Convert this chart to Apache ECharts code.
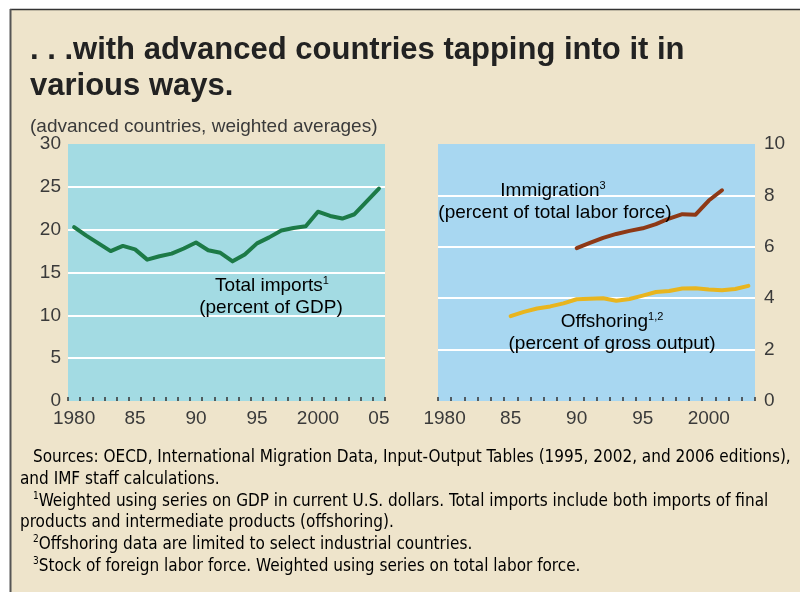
<!DOCTYPE html>
<html><head><meta charset="utf-8">
<script src="https://cdn.jsdelivr.net/npm/echarts@6/dist/echarts.min.js"></script>
<style>html,body{margin:0;padding:0;background:#fff;}#c{width:800px;height:592px;}</style>
</head><body><div id="c"></div>
<script>
// ---- data ----
const leftYears = [1980,1981,1982,1983,1984,1985,1986,1987,1988,1989,1990,1991,1992,1993,1994,1995,1996,1997,1998,1999,2000,2001,2002,2003,2004,2005];
const totalImports = [20.3,19.3,18.4,17.5,18.1,17.7,16.5,16.9,17.2,17.8,18.5,17.6,17.3,16.3,17.1,18.4,19.1,19.9,20.2,20.4,22.1,21.6,21.3,21.8,23.3,24.8];
const rightYears = [1980,1981,1982,1983,1984,1985,1986,1987,1988,1989,1990,1991,1992,1993,1994,1995,1996,1997,1998,1999,2000,2001,2002,2003];
const immigration = [null,null,null,null,null,null,null,null,null,null,5.95,6.15,6.35,6.5,6.62,6.72,6.88,7.1,7.27,7.25,7.8,8.2,null,null];
const offshoring = [null,null,null,null,null,3.3,3.47,3.6,3.68,3.8,3.96,3.98,4.0,3.9,3.97,4.1,4.24,4.28,4.38,4.39,4.34,4.31,4.36,4.48];
const leftTickLabels = {1980:'1980',1985:'85',1990:'90',1995:'95',2000:'2000',2005:'05'};
const rightTickLabels = {1980:'1980',1985:'85',1990:'90',1995:'95',2000:'2000'};
const leftYTicks = [0,5,10,15,20,25,30];
const rightYTicks = [0,2,4,6,8,10];

const txt = '#3a3a3a';
const F = '"Liberation Sans", Arial, sans-serif';
const FN = '"Liberation Sans Narrow", "Arial Narrow", "DejaVu Sans Condensed", "Liberation Sans", sans-serif';
const chart = echarts.init(document.getElementById('c'), null, {renderer:'canvas'});

function xAxis(gi, years, labels){
  return {
    type:'category', gridIndex:gi, data:years.map(String), boundaryGap:true,
    axisLine:{show:false},
    axisTick:{show:true, inside:true, length:4, interval:0, lineStyle:{color:'#333', width:1.5}},
    axisLabel:{interval:4, margin:8, color:txt, fontFamily:F, fontSize:19,
      formatter:v => labels[v] || ''},
    splitLine:{show:false}
  };
}
function yAxis(gi, ticks, pos, margin){
  const cols = ticks.map((t,i)=> (i===0||i===ticks.length-1)?'rgba(0,0,0,0)':'#ffffff');
  return {
    type:'value', gridIndex:gi, position:pos, min:ticks[0], max:ticks[ticks.length-1],
    interval:ticks[1]-ticks[0],
    axisLine:{show:false}, axisTick:{show:false},
    axisLabel:{color:txt, fontFamily:F, fontSize:19, margin:margin},
    splitLine:{show:true, lineStyle:{color:cols, width:2}}
  };
}
function sup(x,y,parts,align){
  return {type:'text', x:x, y:y, z:100, silent:true,
    style:{text:parts, align:align||'center', verticalAlign:'middle',
      rich:{
        m:{fontFamily:F, fontSize:19, color:txt, lineHeight:22, verticalAlign:'bottom'},
        s:{fontFamily:F, fontSize:11, color:txt, lineHeight:22, verticalAlign:'top', padding:[2,0,0,0]}
      }}};
}
function note(x,y,parts){
  return {type:'text', x:x, y:y, z:100, silent:true,
    style:{text:parts, align:'left', verticalAlign:'middle',
      rich:{
        m:{fontFamily:FN, fontSize:17, color:txt, lineHeight:20, verticalAlign:'bottom'},
        s:{fontFamily:FN, fontSize:10, color:txt, lineHeight:20, verticalAlign:'top', padding:[1,0,0,0]}
      }}};
}

const option = {
  backgroundColor:'#ffffff',
  animation:false,
  grid:[
    {left:68, right:415, top:144, height:257, show:true, backgroundColor:'#a3dbe3', borderWidth:0},
    {left:438, right:45, top:144, height:257, show:true, backgroundColor:'#a8d7f1', borderWidth:0}
  ],
  xAxis:[xAxis(0,leftYears,leftTickLabels), xAxis(1,rightYears,rightTickLabels)],
  yAxis:[yAxis(0,leftYTicks,'left',7), yAxis(1,rightYTicks,'right',9)],
  series:[
    {type:'line', name:'Total imports', xAxisIndex:0, yAxisIndex:0, data:totalImports, symbol:'none',
      lineStyle:{color:'#1c7a47', width:4, cap:'round', join:'round'}},
    {type:'line', name:'Immigration', xAxisIndex:1, yAxisIndex:1, data:immigration, symbol:'none',
      lineStyle:{color:'#8e3916', width:4, cap:'round', join:'round'}},
    {type:'line', name:'Offshoring', xAxisIndex:1, yAxisIndex:1, data:offshoring, symbol:'none',
      lineStyle:{color:'#e8b51f', width:4, cap:'round', join:'round'}}
  ],
  graphic:[
    {type:'rect', z:-10, shape:{x:10, y:9, width:800, height:600}, style:{fill:'#eee4cb', stroke:null}},
    {type:'line', z:-9, shape:{x1:10, y1:9.5, x2:800, y2:9.5}, style:{stroke:'#333', lineWidth:1.5}},
    {type:'line', z:-9, shape:{x1:10.5, y1:9, x2:10.5, y2:592}, style:{stroke:'#555', lineWidth:2}},
    {type:'text', x:30, y:50, z:100, style:{text:'. . .with advanced countries tapping into it in', font:'bold 31px "Liberation Sans"', fill:'#222', verticalAlign:'middle'}},
    {type:'text', x:30, y:86, z:100, style:{text:'various ways.', font:'bold 31px "Liberation Sans"', fill:'#222', verticalAlign:'middle'}},
    {type:'text', x:30, y:127, z:100, style:{text:'(advanced countries, weighted averages)', font:'19px "Liberation Sans"', fill:txt, verticalAlign:'middle'}},
    sup(272,284,'{m|Total imports}{s|1}'),
    sup(271,306,'{m|(percent of GDP)}'),
    sup(553,189,'{m|Immigration}{s|3}'),
    sup(555,211,'{m|(percent of total labor force)}'),
    sup(612,320,'{m|Offshoring}{s|1,2}'),
    sup(612,342,'{m|(percent of gross output)}'),
    note(33,456,'{m|Sources: OECD, International Migration Data, Input-Output Tables (1995, 2002, and 2006 editions),}'),
    note(20,478,'{m|and IMF staff calculations.}'),
    note(33,500,'{s|1}{m|Weighted using series on GDP in current U.S. dollars. Total imports include both imports of final}'),
    note(20,521,'{m|products and intermediate products (offshoring).}'),
    note(33,543,'{s|2}{m|Offshoring data are limited to select industrial countries.}'),
    note(33,565,'{s|3}{m|Stock of foreign labor force. Weighted using series on total labor force.}')
  ]
};
chart.setOption(option);
</script></body></html>
